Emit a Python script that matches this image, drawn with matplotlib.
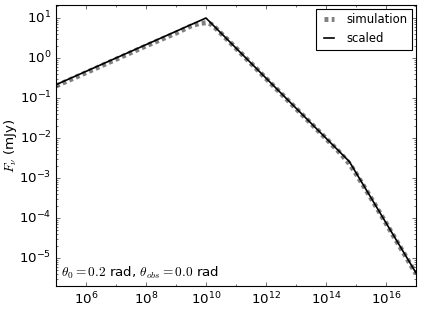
import numpy as np
import matplotlib
matplotlib.use('Agg')
from matplotlib import pyplot as plt
from matplotlib.ticker import LogLocator, NullFormatter

plt.style.use('classic')
plt.rcParams['axes.unicode_minus'] = False

# scaled broken power law (break points)
nu_scaled = [1e5, 1e10, 6e14, 1e17]
f_scaled = [0.215, 10.0, 2.6e-3, 4.3e-6]

# simulation curve, read at a few frequencies
nu_sim = [1e5, 1e6, 1e7, 1e8, 1e9, 3e9, 6e9, 1e10, 1.5e10, 2e10, 5e10, 1e11,
          1e12, 1e13, 1e14, 3e14, 6e14, 1e15, 3e15, 1e16, 1e17]
f_sim = [0.2, 0.43, 0.93, 2.0, 4.2, 6.2, 7.3, 7.6, 7.0, 5.8, 2.95, 1.76,
         0.31, 0.055, 9.8e-3, 4.2e-3, 2.3e-3, 1.3e-3, 3.4e-4, 7.5e-5, 4.1e-6]

xticks = [1e6, 1e8, 1e10, 1e12, 1e14, 1e16]
yticks = [1e-5, 1e-4, 1e-3, 1e-2, 1e-1, 1e0, 1e1]

fig = plt.figure(figsize=(5.3, 3.9875), dpi=80, facecolor='white')
ax = fig.add_axes([0.132, 0.103, 0.849, 0.881])

ax.loglog(nu_sim, f_sim, color='0.5', lw=4.5, dashes=(3.5, 3.0), label='simulation')
ax.loglog(nu_scaled, f_scaled, color='black', lw=1.5, label='scaled')

ax.set_xticks(xticks)
ax.set_yticks(yticks)
ax.xaxis.set_minor_locator(LogLocator(base=10, subs=(1.0,), numticks=30))
ax.xaxis.set_minor_formatter(NullFormatter())
ax.yaxis.set_minor_locator(LogLocator(base=10, subs=np.arange(2, 10), numticks=20))
ax.yaxis.set_minor_formatter(NullFormatter())
ax.tick_params(axis='both', which='major', labelsize=12, pad=4)

ax.set_xlim(1e5, 1e17)
ax.set_ylim(2e-6, 21)

ax.set_ylabel(r'$F_\nu$ (mJy)', fontsize=12)
ax.yaxis.set_label_coords(-0.103, 0.5)
ax.text(0.013, 0.033, r'$\theta_0=0.2$ rad, $\theta_{obs}=0.0$ rad',
        transform=ax.transAxes, fontsize=12)

leg = ax.legend(loc='upper right', fontsize=10.5, handlelength=1.4,
                borderaxespad=0.3)

fig.savefig('out.png', dpi=80, facecolor='white')
